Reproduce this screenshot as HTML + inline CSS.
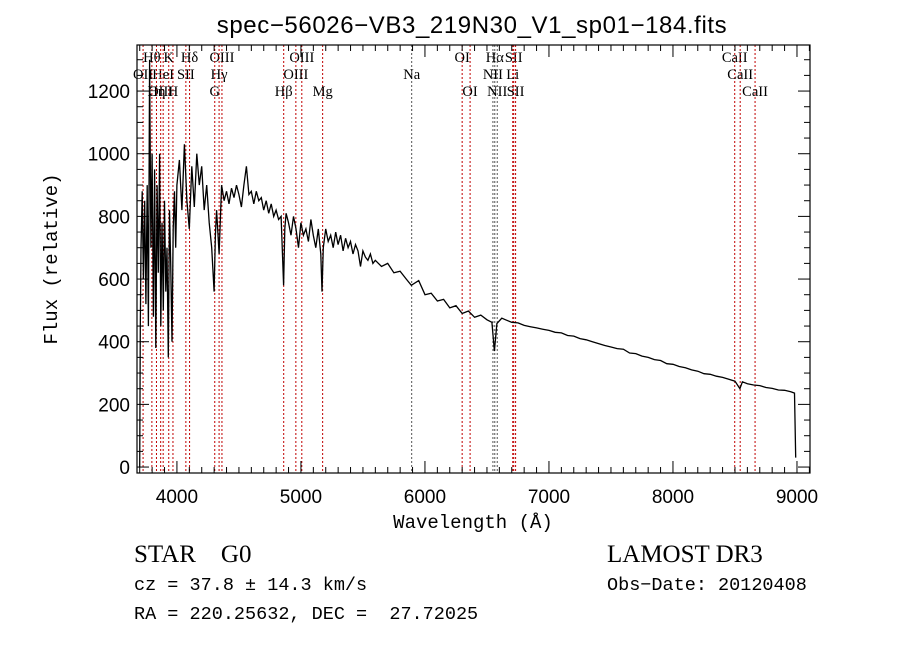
<!DOCTYPE html>
<html><head><meta charset="utf-8"><style>
html,body{margin:0;padding:0;background:#fff;}
svg{display:block;}
</style></head><body>
<svg id="chart" width="900" height="649" viewBox="0 0 900 649" xmlns="http://www.w3.org/2000/svg">
<rect x="0" y="0" width="900" height="649" fill="#fff"/>
<text x="472" y="33" text-anchor="middle" font-family="Liberation Sans, sans-serif" font-size="24" letter-spacing="0.6">spec−56026−VB3_219N30_V1_sp01−184.fits</text>
<g id="lines"></g>
<g id="spec"></g>
<g id="axes"></g>
<text x="473" y="528" text-anchor="middle" font-family="Liberation Mono, monospace" font-size="19">Wavelength (Å)</text>
<text transform="translate(57,259) rotate(-90)" text-anchor="middle" font-family="Liberation Mono, monospace" font-size="19">Flux (relative)</text>
<text x="134" y="562" font-family="Liberation Serif, serif" font-size="25" xml:space="preserve">STAR    G0</text>
<text x="607" y="562" font-family="Liberation Serif, serif" font-size="25">LAMOST DR3</text>
<text x="134" y="590" font-family="Liberation Mono, monospace" font-size="18.5">cz = 37.8 ± 14.3 km/s</text>
<text x="607" y="590" font-family="Liberation Mono, monospace" font-size="18.5">Obs−Date: 20120408</text>
<text x="134" y="619" font-family="Liberation Mono, monospace" font-size="18.5" xml:space="preserve">RA = 220.25632, DEC =  27.72025</text>
</svg>
<script>
const wavelengths = [3700,3705,3710,3720,3730,3740,3750,3760,3770,3780,3790,3800,3810,3820,3830,3840,3850,3860,3870,3880,3890,3900,3910,3920,3930,3940,3950,3960,3970,3980,3990,4000,4020,4040,4060,4080,4100,4120,4140,4160,4180,4200,4220,4240,4260,4280,4300,4310,4320,4340,4360,4380,4400,4420,4440,4460,4480,4500,4520,4540,4560,4580,4600,4620,4640,4660,4680,4700,4720,4740,4760,4780,4800,4820,4840,4860,4870,4880,4900,4920,4940,4960,4980,5000,5020,5040,5060,5080,5100,5120,5140,5160,5170,5180,5200,5220,5240,5260,5280,5300,5320,5340,5360,5380,5400,5420,5440,5460,5480,5500,5520,5540,5560,5580,5600,5650,5700,5750,5800,5850,5890,5950,6000,6050,6100,6150,6200,6250,6300,6350,6400,6450,6500,
6540,6560,6580,6620,6650,6700,6750,6800,6850,6900,6950,7000,
7050,7100,7150,7200,7250,7300,7350,7400,7450,7500,7550,7600,7650,7700,7750,7800,7850,7900,7950,8000,8050,8100,8150,8200,8250,8300,8350,8400,8450,8500,
8540,8560,8600,8650,8700,8750,8800,8850,8900,8950,8980,8990];
const fluxes = [0,450,700,880,600,850,520,900,450,1300,700,1000,480,950,380,900,620,1000,450,780,500,850,560,700,350,820,650,400,760,880,700,900,980,820,1030,850,760,960,830,1000,900,960,820,900,780,700,560,740,820,680,900,850,880,840,890,860,900,870,830,900,960,870,880,840,880,850,860,820,850,810,840,800,820,790,800,580,760,810,780,740,800,760,700,780,740,760,720,790,740,700,760,680,560,700,760,720,740,700,750,710,740,690,730,700,720,680,710,690,640,690,670,660,680,650,660,640,650,620,625,600,580,595,550,555,530,535,508,515,490,498,478,485,470,
462,370,458,475,470,462,460,452,448,444,440,436,
430,428,420,418,410,406,400,394,388,383,378,376,364,362,354,350,343,340,330,328,321,317,310,306,298,296,290,286,280,274,
250,272,266,262,260,254,251,246,245,240,236,30];
const yTicks = [0,200,400,600,800,1000,1200];
const xTicks = [4000,5000,6000,7000,8000,9000];
const lineNames = ["Hθ","K","Hδ","OIII","OIII","OI","Hα","SII","CaII","OII","HeI","SII","Hγ","OIII","Na","NII","Li","CaII","OIII","Hη","H","G","Hβ","Mg","OI","NII","SII","CaII"];
const lineWaves = [3798,3934,4102,4363,5007,6300,6563,6716,8498,3727,3889,4072,4340,4959,5893,6548,6708,8542,3869,3835,3968,4305,4861,5175,6364,6583,6731,8662];
const lineRows = [0,0,0,0,0,0,0,0,0,1,1,1,1,1,1,1,1,1,2,2,2,2,2,2,2,2,2,2];

const L=137,R=810,T=45,B=473;
const X0=3678,X1=9105,Y0=-19,Y1=1347;
const xs=w=>L+(w-X0)/(X1-X0)*(R-L);
const ys=f=>B-(f-Y0)/(Y1-Y0)*(B-T);
const NS="http://www.w3.org/2000/svg";
function mk(tag,attrs,parent){const e=document.createElementNS(NS,tag);for(const k in attrs)e.setAttribute(k,attrs[k]);parent.appendChild(e);return e;}

const lg=document.getElementById('lines');
const rowY=[62,79,96];
lineWaves.forEach((w,i)=>{
  const x=xs(w);
  const dark=(lineNames[i]==="Na"||lineNames[i]==="Hα"||lineNames[i]==="NII");
  const ln=mk('line',{x1:x,x2:x,y1:T,y2:B,stroke:dark?'#555':'#c00000','stroke-width':1,'stroke-dasharray':'2,2'},lg);
  
  
  const t=mk('text',{x:x,y:rowY[lineRows[i]],'text-anchor':'middle','font-family':'Liberation Serif, serif','font-size':14.5},lg);
  t.textContent=lineNames[i];
  
  
});

const sg=document.getElementById('spec');
const n=Math.min(wavelengths.length,fluxes.length);
const pts=wavelengths.slice(0,n).map((w,i)=>xs(w).toFixed(1)+','+ys(fluxes[i]).toFixed(1)).join(' ');
const pl=mk('polyline',{points:pts,fill:'none',stroke:'#000','stroke-width':1.3},sg);



const ag=document.getElementById('axes');
const fr=mk('rect',{x:L,y:T,width:R-L,height:B-T,fill:'none',stroke:'#000','stroke-width':1.2},ag);


for(let w=3700;w<=9100;w+=100){
  const x=xs(w);const major=(w%1000===0);const len=major?12:6;
  mk('line',{x1:x,x2:x,y1:B,y2:B-len,stroke:'#000','stroke-width':1},ag);
  mk('line',{x1:x,x2:x,y1:T,y2:T+len,stroke:'#000','stroke-width':1},ag);
}
for(let f=0;f<=1300;f+=50){
  const y=ys(f);const major=(f%200===0);const len=major?12:6;
  mk('line',{x1:L,x2:L+len,y1:y,y2:y,stroke:'#000','stroke-width':1},ag);
  mk('line',{x1:R,x2:R-len,y1:y,y2:y,stroke:'#000','stroke-width':1},ag);
}
xTicks.forEach(w=>{
  const t=mk('text',{x:xs(w),y:B+30,'text-anchor':'middle','font-family':'Liberation Sans, sans-serif','font-size':19},ag);
  t.textContent=w;
  
  
});
yTicks.forEach(f=>{
  const t=mk('text',{x:L-7,y:ys(f)+7,'text-anchor':'end','font-family':'Liberation Sans, sans-serif','font-size':19},ag);
  t.textContent=f;
  
  
});
</script>
</body></html>
